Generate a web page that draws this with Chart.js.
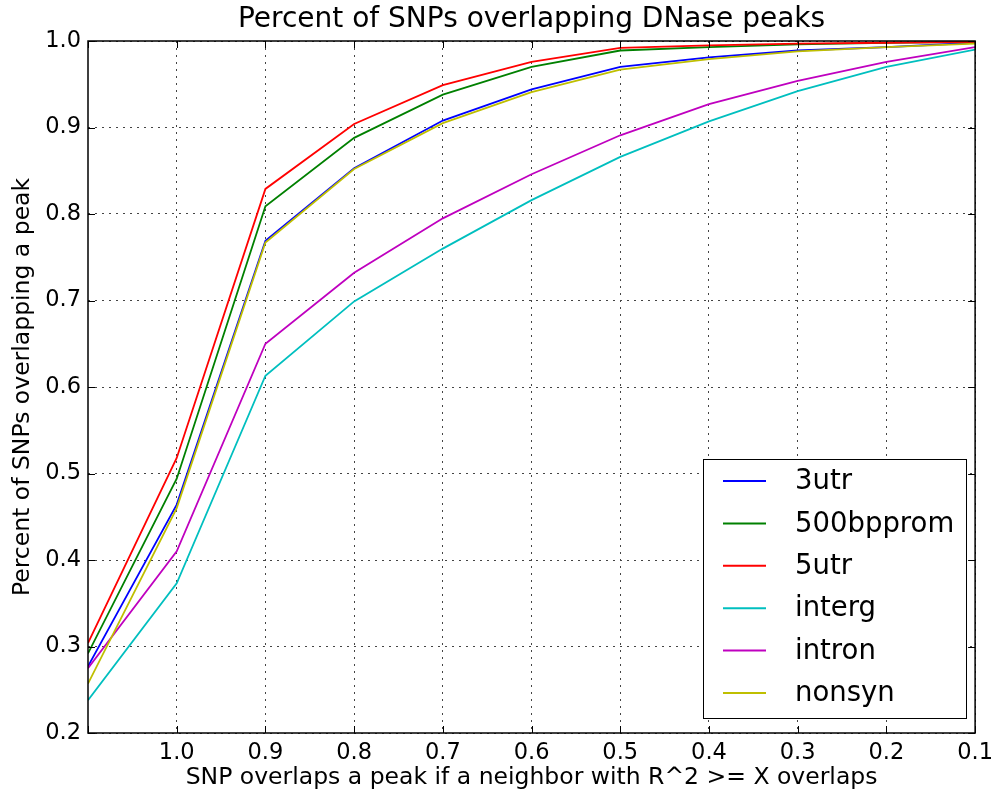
<!DOCTYPE html>
<html>
<head>
<meta charset="utf-8">
<script src="https://cdn.jsdelivr.net/npm/chart.js@4"></script>
<style>
  html, body { margin: 0; padding: 0; background: #fff; }
  #wrap { width: 1000px; height: 793px; }
</style>
</head>
<body>
<div id="wrap"><canvas id="snpChart"></canvas></div>
<script>
// x positions (R^2 threshold), reversed axis; 1.1 is the unlabeled left edge
const thresholds = [1.1, 1.0, 0.9, 0.8, 0.7, 0.6, 0.5, 0.4, 0.3, 0.2, 0.1];
const seriesNames = ['3utr', '500bpprom', '5utr', 'interg', 'intron', 'nonsyn'];
const seriesColors = ['#0000ff', '#008000', '#ff0000', '#00bfbf', '#bf00bf', '#bfbf00'];

const utr3      = [0.277, 0.464, 0.769, 0.853, 0.908, 0.944, 0.970, 0.981, 0.989, 0.993, 0.998];
const prom500   = [0.292, 0.494, 0.809, 0.888, 0.938, 0.970, 0.989, 0.993, 0.996, 0.998, 0.999];
const utr5      = [0.304, 0.518, 0.829, 0.904, 0.949, 0.976, 0.992, 0.995, 0.997, 0.998, 0.999];
const interg    = [0.238, 0.373, 0.613, 0.699, 0.760, 0.816, 0.866, 0.907, 0.942, 0.970, 0.990];
const intron    = [0.275, 0.410, 0.650, 0.732, 0.795, 0.846, 0.891, 0.927, 0.954, 0.976, 0.993];
const nonsyn    = [0.257, 0.460, 0.767, 0.852, 0.905, 0.941, 0.967, 0.979, 0.988, 0.993, 0.997];

const allSeries = [utr3, prom500, utr5, interg, intron, nonsyn];

const FONT = "'DejaVu Sans', sans-serif";

// matplotlib-like frame with inward ticks, plus the boxed legend
const framePlugin = {
    id: 'frame',
    afterDatasetsDraw(chart) {
        const { ctx, chartArea: a, scales } = chart;
        ctx.save();
        ctx.strokeStyle = '#000';
        ctx.lineWidth = 1;
        const len = 7;
        scales.x.ticks.forEach((t) => {
            const x = Math.round(scales.x.getPixelForValue(t.value)) + 0.5;
            ctx.beginPath();
            ctx.moveTo(x, a.bottom); ctx.lineTo(x, a.bottom - len);
            ctx.moveTo(x, a.top); ctx.lineTo(x, a.top + len);
            ctx.stroke();
        });
        scales.y.ticks.forEach((t) => {
            const y = Math.round(scales.y.getPixelForValue(t.value)) + 0.5;
            ctx.beginPath();
            ctx.moveTo(a.left, y); ctx.lineTo(a.left + len, y);
            ctx.moveTo(a.right, y); ctx.lineTo(a.right - len, y);
            ctx.stroke();
        });
        ctx.lineWidth = 1.5;
        ctx.strokeRect(a.left, a.top, a.right - a.left, a.bottom - a.top);

        // legend box
        const bx = 703, by = 459, bw = 263, bh = 259;
        ctx.fillStyle = '#fff';
        ctx.fillRect(bx, by, bw, bh);
        ctx.lineWidth = 1;
        ctx.strokeStyle = '#000';
        ctx.strokeRect(bx + 0.5, by + 0.5, bw, bh);
        ctx.font = '27.5px ' + FONT;
        ctx.textBaseline = 'middle';
        chart.data.datasets.forEach((ds, i) => {
            const y = by + 22 + i * 42.4;
            ctx.strokeStyle = ds.borderColor;
            ctx.lineWidth = 2;
            ctx.beginPath();
            ctx.moveTo(bx + 20, y); ctx.lineTo(bx + 63, y);
            ctx.stroke();
            ctx.fillStyle = '#000';
            ctx.fillText(ds.label, bx + 92, y + 1);
        });
        ctx.restore();
    }
};

const datasets = seriesNames.map((name, i) => ({
    label: name,
    data: thresholds.map((x, j) => ({ x: x, y: allSeries[i][j] })),
    borderColor: seriesColors[i],
    backgroundColor: seriesColors[i],
    borderWidth: 1.8,
    pointRadius: 0,
    tension: 0,
    order: seriesNames.length - i
}));

new Chart(document.getElementById('snpChart'), {
    type: 'line',
    data: { datasets },
    options: {
        responsive: true,
        maintainAspectRatio: false,
        animation: false,
        layout: { padding: { top: 0, right: 21, bottom: 0, left: 0 } },
        plugins: {
            legend: { display: false },
            tooltip: { enabled: false },
            title: {
                display: true,
                fullSize: false,
                text: 'Percent of SNPs overlapping DNase peaks',
                color: '#000',
                font: { family: FONT, size: 28, weight: 'normal', lineHeight: 1.0 },
                padding: { top: 6, bottom: 7 }
            }
        },
        scales: {
            x: {
                type: 'linear',
                reverse: true,
                min: 0.1,
                max: 1.1,
                afterFit: (s) => { s.height = 60; },
                afterBuildTicks: (s) => {
                    s.ticks = thresholds.map((v) => ({ value: v }));
                },
                ticks: {
                    color: '#000',
                    font: { family: FONT, size: 22.5 },
                    padding: 7,
                    maxRotation: 0,
                    autoSkip: false,
                    callback: (v) => (v > 1.05 ? '' : Number(v).toFixed(1))
                },
                grid: {
                    drawTicks: false,
                    color: (c) => (c.tick && c.tick.value > 1.05 ? 'rgba(0,0,0,0)' : '#444'),
                    lineWidth: 1
                },
                border: { display: false, dash: [2, 5] },
                title: {
                    display: true,
                    text: 'SNP overlaps a peak if a neighbor with R^2 >= X overlaps',
                    color: '#000',
                    font: { family: FONT, size: 23.5 },
                    padding: { top: 0, bottom: 1 }
                }
            },
            y: {
                min: 0.2,
                max: 1.0,
                afterFit: (s) => { s.width = 88; },
                ticks: {
                    stepSize: 0.1,
                    color: '#000',
                    font: { family: FONT, size: 22.5 },
                    padding: 7,
                    callback: (v) => Number(v).toFixed(1)
                },
                grid: { drawTicks: false, color: '#444', lineWidth: 1 },
                border: { display: false, dash: [2, 5] },
                title: {
                    display: true,
                    text: 'Percent of SNPs overlapping a peak',
                    color: '#000',
                    font: { family: FONT, size: 23.5 },
                    padding: { top: 9, bottom: 0 }
                }
            }
        }
    },
    plugins: [framePlugin]
});
</script>
</body>
</html>
